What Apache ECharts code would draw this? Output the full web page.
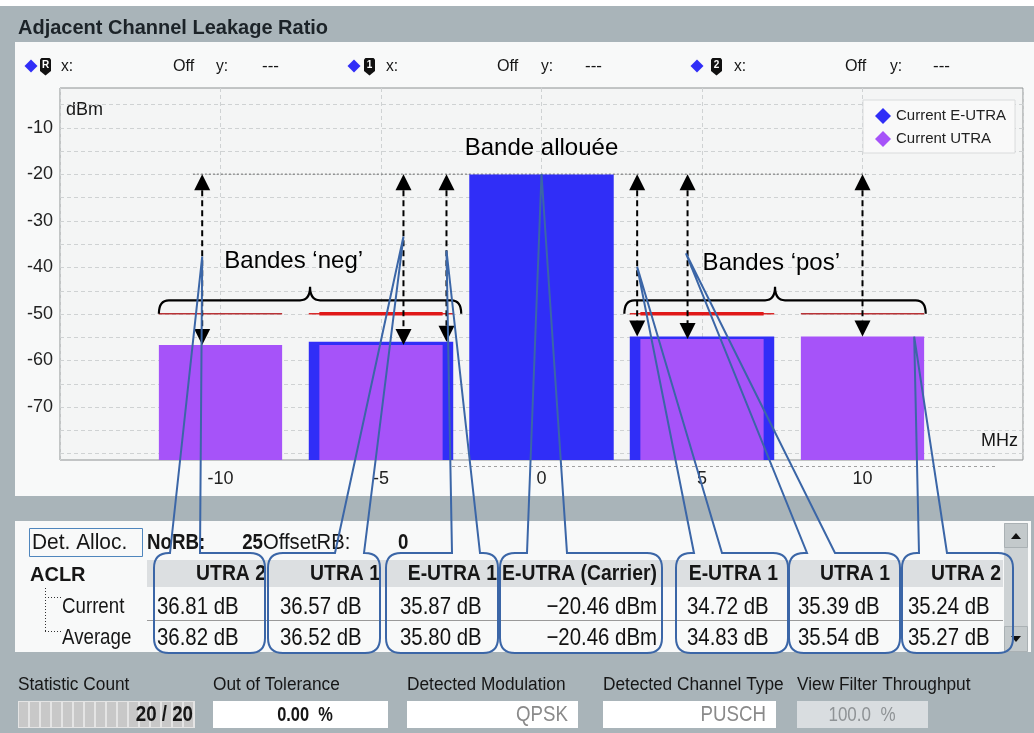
<!DOCTYPE html>
<html><head><meta charset="utf-8">
<script src="https://cdn.jsdelivr.net/npm/echarts@6/dist/echarts.min.js"></script>
<style>html,body{margin:0;padding:0;background:#a9b4b9}#c{width:1034px;height:733px}</style>
</head><body><div id="c"></div>
<script>
// ---------------- data ----------------
const freqTicks = [-10, -5, 0, 5, 10];
const levelTicks = [-70, -60, -50, -40, -30, -20, -10];
const gridLevels = [-80, -75, -70, -65, -60, -55, -50, -45, -40, -35, -30, -25, -20, -15, -10, -5];
const eutraCenters = [-5, 0, 5];
const eutraLevels = [-56.0, -20.1, -54.9];
const utraCenters = [-10, -5, 5, 10];
const utraLevels = [-56.7, -56.7, -55.4, -54.9];
const eutraBandwidth = 4.5;
const utraBandwidth = 3.84;
const limitLevel = -50;
const carrierRefLevel = -20;
const refLineFreqs = [-10.86, 10.1];
const arrowFreqs = [-10.57, -4.3, -2.96, 2.98, 4.55, 10.0];
const arrowLevels = [-56.7, -56.7, -56.0, -54.9, -55.4, -54.9];
const braceFrom = [-11.92, 2.58];
const braceTo = [-2.5, 11.97];
const bandLabels = ['Bande allouée', 'Bandes \u2018neg\u2019', 'Bandes \u2018pos\u2019'];
const bandLabelFreqs = [0, -7.72, 7.16];
const bandLabelLevels = [-14.4, -38.8, -39.1];
const calloutTipFreqs = [-10.57, -4.3, -2.96, 0, 2.98, 4.5, 11.61];
const calloutTipLevels = [-37.7, -33.4, -36.4, -20, -39.9, -37.0, -54.9];
const aclrHeaders = ['UTRA 2', 'UTRA 1', 'E-UTRA 1', 'E-UTRA (Carrier)', 'E-UTRA 1', 'UTRA 1', 'UTRA 2'];
const aclrCurrent = ['36.81 dB', '36.57 dB', '35.87 dB', '\u221220.46 dBm', '34.72 dB', '35.39 dB', '35.24 dB'];
const aclrAverage = ['36.82 dB', '36.52 dB', '35.80 dB', '\u221220.46 dBm', '34.83 dB', '35.54 dB', '35.27 dB'];
const markerNames = ['R', '1', '2'];
const statusLabels = ['Statistic Count', 'Out of Tolerance', 'Detected Modulation', 'Detected Channel Type', 'View Filter Throughput'];
const statusValues = ['20 / 20', '0.00  %', 'QPSK', 'PUSCH', '100.0  %'];

// ---------------- layout / style ----------------
const Y_MIN = -81.4, Y_MAX = -1.5, X_MIN = -15, X_MAX = 15;
const BLUE = '#302ef7', PURPLE = '#a653f9', CALLOUT = '#3b66a7';
const FONT = '"Liberation Sans", Arial, sans-serif';
const colRight = [266, 380, 497, 657, 778, 890, 1001];
const valLeft = [157, 280, 400, null, 687, 798, 908];
const boxL = [154, 268, 386, 500, 676, 789, 902];
const boxR = [265, 380, 498, 662, 788, 900, 1013];
const baseA = [170, 335, 452, 527, 694, 807, 919];
const baseB = [200, 364, 480, 567, 722, 835, 947];
const BOX_T = 553, BOX_B = 653, BOX_RAD = 15;

function txt(x, y, text, size, o) {
  o = o || {};
  return { type: 'text', x: x, y: y, scaleX: o.sx || 1, z: o.z == null ? 1 : o.z, silent: true,
    style: { text: text, x: 0, y: 0, fill: o.color || '#161616',
      font: (o.bold ? 'bold ' : '') + size + 'px ' + FONT,
      align: o.align || 'left', textAlign: o.align || 'left',
      verticalAlign: 'middle', textVerticalAlign: 'middle' } };
}
function rect(x, y, w, h, fill, o) {
  o = o || {};
  return { type: 'rect', z: o.z == null ? 0 : o.z, silent: true,
    shape: { x: x, y: y, width: w, height: h, r: o.r || 0 },
    style: { fill: fill, stroke: o.stroke || null, lineWidth: o.lw || 1 } };
}
function line(x1, y1, x2, y2, stroke, o) {
  o = o || {};
  return { type: 'line', z: o.z == null ? 1 : o.z, silent: true,
    shape: { x1: x1, y1: y1, x2: x2, y2: y2 },
    style: { stroke: stroke, lineWidth: o.lw || 1, lineDash: o.dash || null } };
}

const ui = [];
ui.push(rect(0, 0, 1034, 6, '#ffffff', { z: -5 }));
ui.push(rect(15, 42, 1019, 454, '#f8f9f9', { z: -5 }));
ui.push(rect(15, 521, 1016, 131, '#f8f9f9', { z: -5 }));
ui.push(txt(18, 28, 'Adjacent Channel Leakage Ratio', 20, { bold: true, color: '#1c2328' }));

// marker row
const mkDiamond = [31, 354, 697], mkBadge = [40, 364, 711], mkX = [61, 386, 734], mkOff = [173, 497, 845], mkY = [216, 541, 890], mkDash = [262, 585, 933];
markerNames.forEach(function (n, i) {
  const cx = mkDiamond[i], bx = mkBadge[i];
  ui.push({ type: 'polygon', z: 1, silent: true, shape: { points: [[cx, 59.5], [cx + 6.5, 66], [cx, 72.5], [cx - 6.5, 66]] }, style: { fill: BLUE } });
  ui.push({ type: 'polygon', z: 1, silent: true, shape: { points: [[bx + 1.5, 58], [bx + 9.5, 58], [bx + 11, 59.5], [bx + 11, 71], [bx + 5.5, 75.5], [bx, 71], [bx, 59.5]] }, style: { fill: '#111' } });
  ui.push(txt(bx + 5.5, 65.5, n, 10, { bold: true, color: '#fff', align: 'center', z: 2 }));
  ui.push(txt(mkX[i], 66, 'x:', 17, { sx: 0.92 }));
  ui.push(txt(mkOff[i], 66, 'Off', 17, { sx: 0.95 }));
  ui.push(txt(mkY[i], 66, 'y:', 17, { sx: 0.92 }));
  ui.push(txt(mkDash[i], 66, '---', 17));
});
ui.push(txt(66, 110, 'dBm', 18));
ui.push(txt(1018, 441, 'MHz', 18, { align: 'right' }));
ui.push(line(452, 466.5, 998, 466.5, '#a0a0a0', { dash: [3, 3] }));

// table
ui.push(rect(29.5, 528.5, 113, 28, 'rgba(0,0,0,0)', { stroke: '#4f86bd', z: 1 }));
ui.push(txt(32, 543, 'Det. Alloc.', 22, { sx: 0.95 }));
ui.push(txt(147, 543, 'NoRB:', 22, { bold: true, sx: 0.85 }));
ui.push(txt(263, 543, '25', 22, { bold: true, sx: 0.85, align: 'right' }));
ui.push(txt(263, 543, 'OffsetRB:', 22, { sx: 0.92 }));
ui.push(txt(398, 543, '0', 22, { bold: true, sx: 0.85 }));
ui.push(txt(30, 575, 'ACLR', 20, { bold: true }));
ui.push(rect(147, 560, 856, 27, '#dcdfe1', { z: -4 }));
ui.push(line(147, 620.5, 1003, 620.5, '#9a9a9a'));
ui.push(line(45.5, 588, 45.5, 632, '#333', { dash: [1, 2] }));
ui.push(line(45, 597.5, 61, 597.5, '#333', { dash: [1, 2] }));
ui.push(line(45, 631.5, 61, 631.5, '#333', { dash: [1, 2] }));
ui.push(txt(62, 607, 'Current', 22, { sx: 0.85 }));
ui.push(txt(62, 638, 'Average', 22, { sx: 0.85 }));
aclrHeaders.forEach(function (h, i) {
  ui.push(txt(colRight[i], 574, h, 22, { bold: true, sx: 0.88, align: 'right' }));
  if (valLeft[i] == null) {
    ui.push(txt(colRight[i], 607, aclrCurrent[i], 24, { sx: 0.85, align: 'right', color: '#111' }));
    ui.push(txt(colRight[i], 638.5, aclrAverage[i], 24, { sx: 0.85, align: 'right', color: '#111' }));
  } else {
    ui.push(txt(valLeft[i], 607, aclrCurrent[i], 24, { sx: 0.85, color: '#111' }));
    ui.push(txt(valLeft[i], 638.5, aclrAverage[i], 24, { sx: 0.85, color: '#111' }));
  }
});
// scrollbar
ui.push(rect(1004, 523, 24, 129, '#cdd2d4', { z: 0 }));
ui.push(rect(1004.5, 523.5, 23, 24, '#c3c9cb', { stroke: '#aab1b4', z: 1 }));
ui.push(rect(1004.5, 626.5, 23, 25, '#c3c9cb', { stroke: '#aab1b4', z: 1 }));
ui.push({ type: 'polygon', z: 2, silent: true, shape: { points: [[1016, 533], [1021, 539], [1011, 539]] }, style: { fill: '#111' } });
ui.push({ type: 'polygon', z: 2, silent: true, shape: { points: [[1011, 636], [1021, 636], [1016, 642]] }, style: { fill: '#111' } });

// status bar
const stX = [18, 213, 407, 603, 797];
statusLabels.forEach(function (s, i) { ui.push(txt(stX[i], 685, s, 18, { sx: 0.96 })); });
ui.push(rect(18, 701, 177, 27, '#e4e4e4', { z: 0 }));
for (let k = 0; k < 16; k++) ui.push(rect(19 + k * 11, 702, 9, 25, '#c8c8c8', { z: 0 }));
ui.push(txt(193, 715, statusValues[0], 22, { bold: true, sx: 0.85, align: 'right', color: '#151515' }));
ui.push(rect(213, 701, 175, 27, '#ffffff'));
ui.push(txt(305, 715, statusValues[1], 20, { bold: true, sx: 0.82, align: 'center', color: '#151515' }));
ui.push(rect(407, 701, 171, 27, '#ffffff'));
ui.push(txt(568, 715, statusValues[2], 22, { sx: 0.85, align: 'right', color: '#8a8a8a' }));
ui.push(rect(603, 701, 173, 27, '#ffffff'));
ui.push(txt(766, 715, statusValues[3], 22, { sx: 0.85, align: 'right', color: '#8a8a8a' }));
ui.push(rect(797, 701, 131, 27, '#d9dde0'));
ui.push(txt(862, 715, statusValues[4], 20, { sx: 0.85, align: 'center', color: '#8f9396' }));

// ---------------- series ----------------
function barSeries(name, centers, levels, bw, color) {
  return {
    type: 'custom', name: name, z: 3, silent: true, itemStyle: { color: color },
    data: centers.map(function (c, i) { return [c, levels[i]]; }),
    renderItem: function (p, api) {
      const c = api.value(0), v = api.value(1);
      const a = api.coord([c - bw / 2, v]), b = api.coord([c + bw / 2, Y_MIN]);
      return { type: 'rect', shape: { x: a[0], y: a[1], width: b[0] - a[0], height: b[1] - a[1] }, style: { fill: color } };
    }
  };
}
function limitSeries(centers, bw, widthFn, colorFn) {
  return {
    type: 'custom', z: 4, silent: true,
    data: centers.map(function (c) { return [c, limitLevel]; }),
    renderItem: function (p, api) {
      const c = api.value(0), v = api.value(1);
      const a = api.coord([c - bw / 2, v]), b = api.coord([c + bw / 2, v]);
      return { type: 'line', shape: { x1: a[0], y1: a[1], x2: b[0], y2: b[1] }, style: { stroke: colorFn(c), lineWidth: widthFn(c) } };
    }
  };
}

const series = [
  { type: 'custom', z: 1, silent: true,
    data: gridLevels.map(function (v) { return [0, v]; }),
    renderItem: function (p, api) {
      const v = api.value(1);
      const a = api.coord([X_MIN, v]), b = api.coord([X_MAX, v]);
      const y = Math.round(a[1]) + 0.5;
      return { type: 'line', shape: { x1: a[0], y1: y, x2: b[0], y2: y }, style: { stroke: '#cfd2d3', lineWidth: 1, lineDash: [4, 3] } };
    } },
  { type: 'line', z: 2, silent: true, symbol: 'none',
    data: refLineFreqs.map(function (f) { return [f, carrierRefLevel]; }),
    lineStyle: { color: '#6a6a6a', width: 1, type: [2, 2] } },
  barSeries('Current E-UTRA', eutraCenters, eutraLevels, eutraBandwidth, BLUE),
  barSeries('Current UTRA', utraCenters, utraLevels, utraBandwidth, PURPLE),
  limitSeries(eutraCenters.filter(function (c) { return c !== 0; }), eutraBandwidth, function () { return 1.5; }, function () { return '#d82a2a'; }),
  limitSeries(utraCenters, utraBandwidth,
    function (c) { return eutraCenters.indexOf(c) >= 0 ? 3.5 : 1.5; },
    function (c) { return eutraCenters.indexOf(c) >= 0 ? '#e01818' : '#b83236'; }),
  { type: 'custom', z: 6, silent: true,
    data: arrowFreqs.map(function (f, i) { return [f, arrowLevels[i]]; }),
    renderItem: function (p, api) {
      const f = api.value(0), v = api.value(1);
      const t = api.coord([f, carrierRefLevel]), b = api.coord([f, v]);
      const hw = 8, hh = 16;
      return { type: 'group', children: [
        { type: 'line', shape: { x1: t[0], y1: t[1] + hh, x2: b[0], y2: b[1] - hh }, style: { stroke: '#000', lineWidth: 2, lineDash: [6, 4] } },
        { type: 'polygon', shape: { points: [[t[0], t[1]], [t[0] - hw, t[1] + hh], [t[0] + hw, t[1] + hh]] }, style: { fill: '#000' } },
        { type: 'polygon', shape: { points: [[b[0], b[1]], [b[0] - hw, b[1] - hh], [b[0] + hw, b[1] - hh]] }, style: { fill: '#000' } }
      ] };
    } },
  { type: 'custom', z: 6, silent: true,
    data: braceFrom.map(function (f, i) { return [f, braceTo[i]]; }),
    renderItem: function (p, api) {
      const a = api.coord([api.value(0), limitLevel]), b = api.coord([api.value(1), limitLevel]);
      const y0 = a[1], yh = y0 - 13.5, yc = y0 - 27, m = (a[0] + b[0]) / 2, k = 10;
      const d = 'M' + a[0] + ' ' + y0 + ' Q' + a[0] + ' ' + yh + ' ' + (a[0] + k) + ' ' + yh +
        ' L' + (m - k) + ' ' + yh + ' Q' + m + ' ' + yh + ' ' + m + ' ' + yc +
        ' Q' + m + ' ' + yh + ' ' + (m + k) + ' ' + yh + ' L' + (b[0] - k) + ' ' + yh +
        ' Q' + b[0] + ' ' + yh + ' ' + b[0] + ' ' + y0;
      return { type: 'path', shape: { pathData: d }, style: { fill: 'none', stroke: '#000', lineWidth: 2.2 } };
    } },
  { type: 'custom', z: 7, silent: true,
    data: bandLabelFreqs.map(function (f, i) { return [f, bandLabelLevels[i]]; }),
    renderItem: function (p, api) {
      const c = api.coord([api.value(0), api.value(1)]);
      return { type: 'text', x: c[0], y: c[1], style: { text: bandLabels[p.dataIndex], x: 0, y: 0, fill: '#000', font: '24px ' + FONT, align: 'center', textAlign: 'center', verticalAlign: 'middle', textVerticalAlign: 'middle' } };
    } },
  { type: 'custom', z: 20, silent: true, clip: false,
    data: calloutTipFreqs.map(function (f, i) { return [f, calloutTipLevels[i]]; }),
    renderItem: function (p, api) {
      const i = p.dataIndex;
      const t = api.coord([api.value(0), api.value(1)]);
      const L = boxL[i], R = boxR[i], T = BOX_T, B = BOX_B, r = BOX_RAD;
      const d = 'M' + baseB[i] + ' ' + T + ' L' + (R - r) + ' ' + T + ' Q' + R + ' ' + T + ' ' + R + ' ' + (T + r) +
        ' L' + R + ' ' + (B - r) + ' Q' + R + ' ' + B + ' ' + (R - r) + ' ' + B +
        ' L' + (L + r) + ' ' + B + ' Q' + L + ' ' + B + ' ' + L + ' ' + (B - r) +
        ' L' + L + ' ' + (T + r) + ' Q' + L + ' ' + T + ' ' + (L + r) + ' ' + T +
        ' L' + baseA[i] + ' ' + T + ' L' + t[0] + ' ' + t[1] + ' Z';
      return { type: 'path', shape: { pathData: d }, style: { fill: 'none', stroke: CALLOUT, lineWidth: 2 } };
    } }
];

const chart = echarts.init(document.getElementById('c'), null, { renderer: 'canvas' });
chart.setOption({
  animation: false,
  backgroundColor: '#a9b4b9',
  textStyle: { fontFamily: FONT },
  grid: { left: 60, right: 11, top: 88, bottom: 273, show: true, backgroundColor: '#f4f5f5', borderColor: '#8e9293', borderWidth: 1, containLabel: false, outerBoundsMode: 'none' },
  xAxis: { type: 'value', min: X_MIN, max: X_MAX, interval: 5,
    axisLine: { show: false }, axisTick: { show: false },
    axisLabel: { customValues: freqTicks, fontSize: 18, color: '#222', margin: 10, fontFamily: FONT },
    splitLine: { show: true, lineStyle: { color: '#cfd2d3', type: [4, 3] } } },
  yAxis: { type: 'value', min: Y_MIN, max: Y_MAX,
    axisLine: { show: false }, axisTick: { show: false }, splitLine: { show: false },
    axisLabel: { customValues: levelTicks, fontSize: 18, color: '#222', margin: 7, fontFamily: FONT } },
  legend: { data: [{ name: 'Current E-UTRA', icon: 'diamond' }, { name: 'Current UTRA', icon: 'diamond' }],
    orient: 'vertical', left: 863, top: 100, itemWidth: 16, itemHeight: 16, itemGap: 7,
    padding: [8, 9, 6, 12], backgroundColor: '#f9f9f9', borderColor: '#d9dbdc', borderWidth: 1,
    textStyle: { fontSize: 15, color: '#222', fontFamily: FONT }, selectedMode: false },
  graphic: { elements: ui },
  series: series
});
</script></body></html>
